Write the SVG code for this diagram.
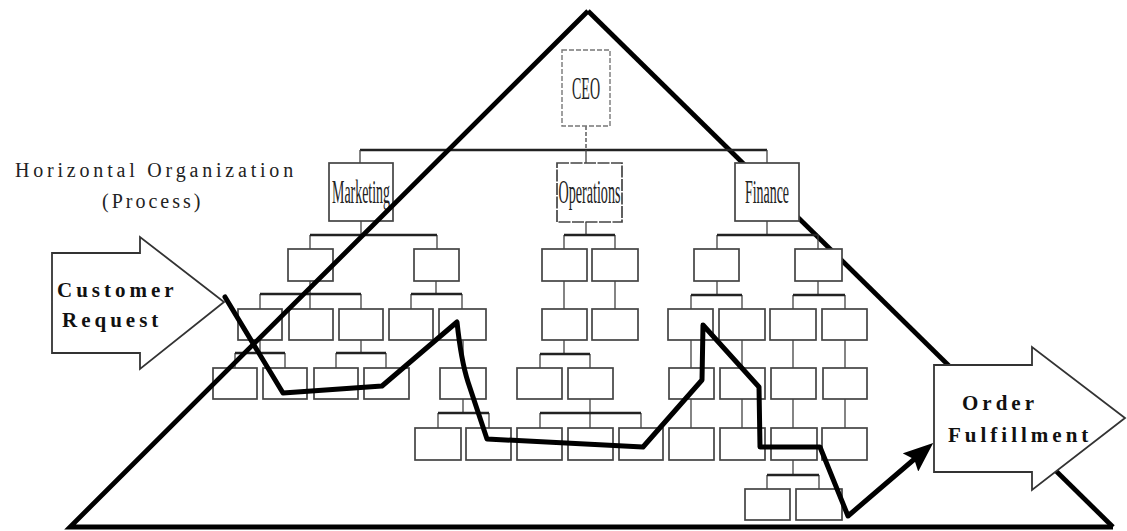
<svg xmlns="http://www.w3.org/2000/svg" width="1127" height="531" viewBox="0 0 1127 531">
  <style>
    .box { fill: #fff; stroke: #444; stroke-width: 1.7; }
    .ceo { fill: #fff; stroke: #777; stroke-width: 1.4; stroke-dasharray: 5 2; }
    .ln { fill: none; stroke: #444; stroke-width: 1.3; }
    .bar { fill: none; stroke: #222; stroke-width: 2.3; }
    .edge { fill: none; stroke: #000; stroke-width: 4.8; stroke-linejoin: miter; }
    .flow { fill: none; stroke: #000; stroke-width: 5; stroke-linejoin: round; stroke-linecap: round; }
    .big { fill: #fff; stroke: #333; stroke-width: 1.8; }
    .dept { font-family: "Liberation Serif", serif; font-size: 34px; fill: #222; text-anchor: middle; }
    .lbl { font-family: "Liberation Serif", serif; font-weight: bold; font-size: 21px; letter-spacing: 4px; fill: #111; }
    .cap { font-family: "Liberation Serif", serif; font-size: 20px; fill: #222; }
  </style>
  <defs>
    <marker id="head" viewBox="0 0 30 24" refX="10" refY="12" markerWidth="30" markerHeight="24" markerUnits="userSpaceOnUse" orient="auto">
      <path d="M0,0 L30,12 L0,24 L5,12 z" fill="#000"/>
    </marker>
  </defs>

  <!-- pyramid outline (right edge sits behind the chart boxes) -->
  <g id="pyramid-back">
    <path class="edge" d="M588,11 L1113,527"/>
  </g>

  <!-- reporting lines -->
  <g id="connectors">
    <path class="ln" d="M586,126 V150" stroke-dasharray="4 2"/>
    <path class="bar" d="M360,150 H767" stroke-width="3"/>
    <path class="ln" d="M360,150 V163 M586,150 V163 M767,150 V163"/>

    <!-- Marketing -->
    <path class="ln" d="M361,221 V235 M310,235 V249 M437,235 V249"/>
    <path class="bar" d="M310,235 H437"/>
    <path class="ln" d="M310,281 V309 M260,294 V309 M361,294 V309"/>
    <path class="bar" d="M260,294 H361"/>
    <path class="ln" d="M436,281 V294 M411,294 V309 M462,294 V309"/>
    <path class="bar" d="M411,294 H462"/>
    <path class="ln" d="M260,340 V353 M235,353 V368 M285,353 V368"/>
    <path class="bar" d="M235,353 H285"/>
    <path class="ln" d="M361,340 V353 M336,353 V368 M386,353 V368"/>
    <path class="bar" d="M336,353 H386"/>
    <path class="ln" d="M463,340 V368 M463,399 V413 M438,413 V428 M489,413 V428"/>
    <path class="bar" d="M438,413 H489"/>

    <!-- Operations -->
    <path class="ln" d="M586,222 V235 M564,235 V249 M615,235 V249"/>
    <path class="bar" d="M564,235 H615"/>
    <path class="ln" d="M564,281 V309 M615,281 V309"/>
    <path class="ln" d="M564,340 V354 M540,354 V368 M590,354 V368"/>
    <path class="bar" d="M540,354 H590"/>
    <path class="ln" d="M590,399 V428 M540,413 V428 M641,413 V428"/>
    <path class="bar" d="M540,413 H641"/>

    <!-- Finance -->
    <path class="ln" d="M767,221 V235 M717,235 V249 M818,235 V249"/>
    <path class="bar" d="M717,235 H818"/>
    <path class="ln" d="M717,281 V295 M691,295 V309 M742,295 V309"/>
    <path class="bar" d="M691,295 H742"/>
    <path class="ln" d="M818,281 V295 M793,295 V309 M845,295 V309"/>
    <path class="bar" d="M793,295 H845"/>
    <path class="ln" d="M691,340 V368 M742,340 V368 M793,340 V368 M845,340 V368"/>
    <path class="ln" d="M691,399 V428 M742,399 V428 M793,399 V428 M845,399 V428"/>
    <path class="ln" d="M793,460 V475 M767,475 V489 M819,475 V489"/>
    <path class="bar" d="M767,475 H819"/>
  </g>

  <!-- top of the chart -->
  <g id="ceo">
    <rect class="ceo" x="562" y="50" width="48" height="76"/>
    <text class="dept" x="586" y="99" style="font-size:32px" textLength="28" lengthAdjust="spacingAndGlyphs">CEO</text>
  </g>
  <g id="marketing">
    <rect class="box" x="329" y="163" width="64" height="58"/>
    <text class="dept" x="361" y="203" textLength="58" lengthAdjust="spacingAndGlyphs">Marketing</text>
  </g>
  <g id="operations">
    <rect class="box" x="557" y="163" width="65" height="59" stroke-dasharray="12 1.5"/>
    <text class="dept" x="589.5" y="203" textLength="62" lengthAdjust="spacingAndGlyphs">Operations</text>
  </g>
  <g id="finance">
    <rect class="box" x="735" y="163" width="64" height="58"/>
    <text class="dept" x="767" y="203" textLength="44" lengthAdjust="spacingAndGlyphs">Finance</text>
  </g>

  <!-- unit boxes -->
  <g id="units">
    <!-- level 1 -->
    <rect class="box" x="288" y="249" width="45" height="32"/>
    <rect class="box" x="414" y="249" width="45" height="32"/>
    <rect class="box" x="542" y="249" width="45" height="32"/>
    <rect class="box" x="592" y="249" width="46" height="32"/>
    <rect class="box" x="694" y="249" width="45" height="32"/>
    <rect class="box" x="795" y="249" width="47" height="32"/>
    <!-- level 2 -->
    <rect class="box" x="238" y="309" width="44" height="31"/>
    <rect class="box" x="289" y="309" width="44" height="31"/>
    <rect class="box" x="339" y="309" width="44" height="31"/>
    <rect class="box" x="389" y="309" width="44" height="31"/>
    <rect class="box" x="439" y="309" width="47" height="31"/>
    <rect class="box" x="542" y="309" width="45" height="31"/>
    <rect class="box" x="592" y="309" width="46" height="31"/>
    <rect class="box" x="668" y="309" width="45" height="31"/>
    <rect class="box" x="719" y="309" width="46" height="31"/>
    <rect class="box" x="770" y="309" width="46" height="31"/>
    <rect class="box" x="822" y="309" width="45" height="31"/>
    <!-- level 3 -->
    <rect class="box" x="213" y="368" width="44" height="31"/>
    <rect class="box" x="263" y="368" width="44" height="31"/>
    <rect class="box" x="314" y="368" width="44" height="31"/>
    <rect class="box" x="364" y="368" width="45" height="31"/>
    <rect class="box" x="440" y="368" width="46" height="31"/>
    <rect class="box" x="517" y="368" width="45" height="31"/>
    <rect class="box" x="568" y="368" width="45" height="31"/>
    <rect class="box" x="669" y="368" width="45" height="31"/>
    <rect class="box" x="720" y="368" width="45" height="31"/>
    <rect class="box" x="771" y="368" width="45" height="31"/>
    <rect class="box" x="823" y="368" width="44" height="31"/>
    <!-- level 4 -->
    <rect class="box" x="415" y="428" width="46" height="32"/>
    <rect class="box" x="466" y="428" width="45" height="32"/>
    <rect class="box" x="517" y="428" width="45" height="32"/>
    <rect class="box" x="568" y="428" width="45" height="32"/>
    <rect class="box" x="619" y="428" width="44" height="32"/>
    <rect class="box" x="669" y="428" width="45" height="32"/>
    <rect class="box" x="720" y="428" width="45" height="32"/>
    <rect class="box" x="771" y="428" width="46" height="32"/>
    <rect class="box" x="822" y="428" width="45" height="32"/>
    <!-- level 5 -->
    <rect class="box" x="745" y="489" width="45" height="31"/>
    <rect class="box" x="796" y="489" width="46" height="31"/>
  </g>

  <!-- pyramid outline (left edge and base drawn over the boxes) -->
  <g id="pyramid-front">
    <path class="edge" d="M588,11 L70,527 L1113,527"/>
  </g>

  <!-- process arrows -->
  <g id="customer-request">
    <path class="big" d="M52,253 H140 V237 L224,302 L140,369 V353 H52 Z"/>
    <text class="lbl" x="57" y="297">Customer</text>
    <text class="lbl" x="62" y="327">Request</text>
  </g>
  <g id="order-fulfillment">
    <path class="big" d="M934,365 H1032 V347 L1125,418 L1032,490 V472 H934 Z"/>
    <text class="lbl" x="962" y="410">Order</text>
    <text class="lbl" x="948" y="442">Fulfillment</text>
  </g>

  <!-- caption -->
  <g id="caption">
    <text class="cap" x="15" y="177" letter-spacing="3.8">Horizontal Organization</text>
    <text class="cap" x="102" y="208" letter-spacing="3">(Process)</text>
  </g>

  <!-- the process path across the functions -->
  <g id="process-flow">
    <path class="flow" d="M225,297 L283,393 L382,386 L457,322 Q461,360 468,382 L487,439 L643,447 L702,380 L703,325 L759,387 L760,447 L820,447 L848,516 L918,456" marker-end="url(#head)"/>
  </g>
</svg>
